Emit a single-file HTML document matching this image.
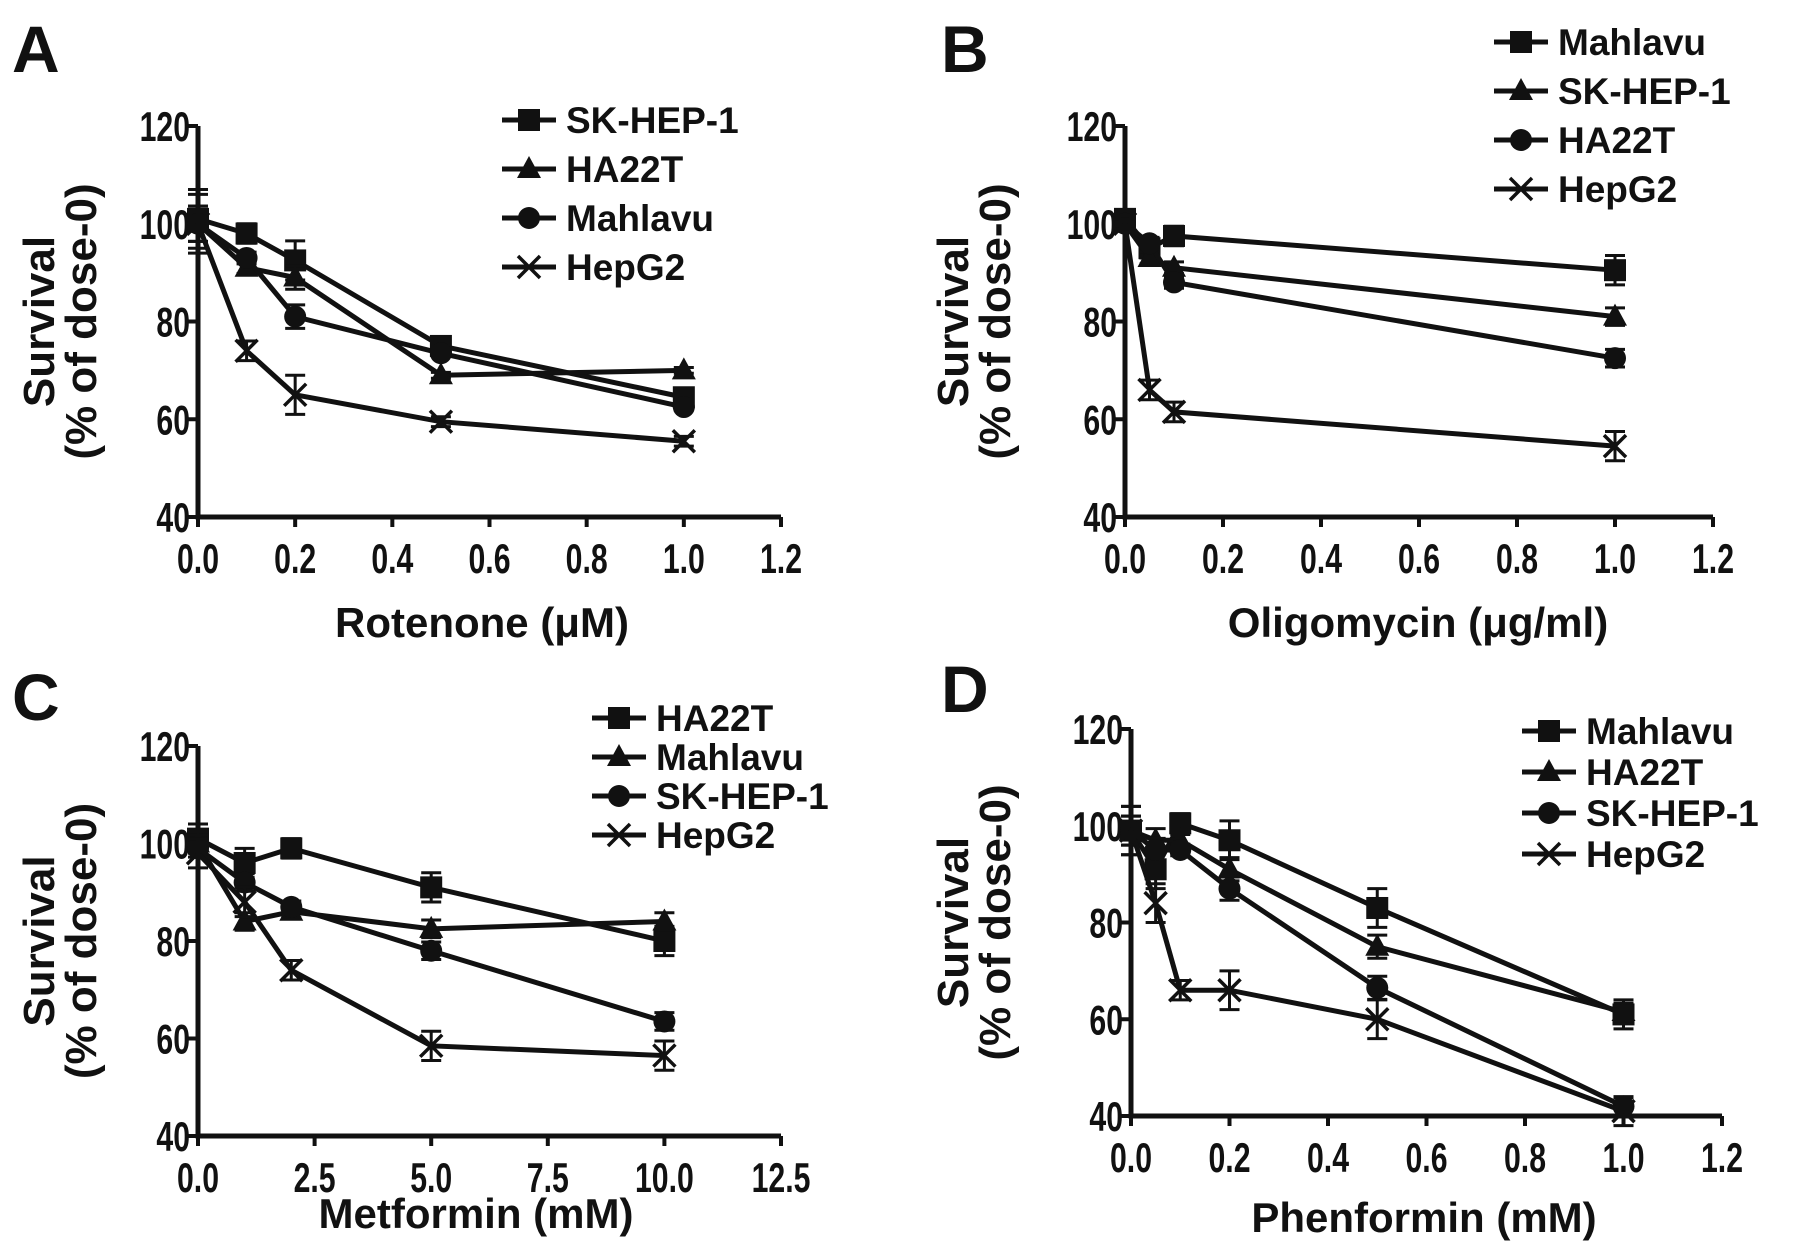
<!DOCTYPE html>
<html><head><meta charset="utf-8">
<style>
html,body{margin:0;padding:0;background:#fff;}
svg{display:block;}
text{font-family:"Liberation Sans",sans-serif;font-weight:bold;fill:#111;}
</style></head>
<body>
<svg id="fig" width="1800" height="1254" viewBox="0 0 1800 1254" xmlns="http://www.w3.org/2000/svg"></svg>
<script>
// Panel A: Rotenone
const aX = [0, 0.1, 0.2, 0.5, 1.0];
const aNames = ["SK-HEP-1", "HA22T", "Mahlavu", "HepG2"];
const aSK = [101, 98, 92.5, 75, 64.5];
const aHA = [100, 91, 89, 69, 70];
const aMa = [100, 93, 81, 73.5, 62.5];
const aHe = [100, 74, 65, 59.5, 55.5];
const aErr = [6, 2, 4, 1, 1];
const aXTicks = ["0.0","0.2","0.4","0.6","0.8","1.0","1.2"];
// Panel B: Oligomycin
const bX = [0, 0.05, 0.1, 1.0];
const bNames = ["Mahlavu", "SK-HEP-1", "HA22T", "HepG2"];
const bMa = [101, 95, 97.5, 90.5];
const bSK = [100, 93, 91, 81];
const bHA = [100, 96, 88, 72.5];
const bHe = [100, 66, 61.5, 54.5];
const bErr = [1, 2, 2, 3];
const bXTicks = ["0.0","0.2","0.4","0.6","0.8","1.0","1.2"];
// Panel C: Metformin
const cX = [0, 1, 2, 5, 10];
const cNames = ["HA22T", "Mahlavu", "SK-HEP-1", "HepG2"];
const cHA = [101, 96, 99, 91, 80];
const cMa = [100, 84, 86, 82.5, 84];
const cSK = [99, 92, 87, 78, 63.5];
const cHe = [98, 88, 74, 58.5, 56.5];
const cErr = [3, 3, 2, 3, 3];
const cXTicks = ["0.0","2.5","5.0","7.5","10.0","12.5"];
// Panel D: Phenformin
const dX = [0, 0.05, 0.1, 0.2, 0.5, 1.0];
const dNames = ["Mahlavu", "HA22T", "SK-HEP-1", "HepG2"];
const dMa = [99, 91, 100.5, 97, 83, 61];
const dHA = [99, 97, 97, 91, 75, 61.5];
const dSK = [99, 95, 95, 87, 66.5, 42];
const dHe = [99, 84, 66, 66, 60, 41];
const dErr = [5, 4, 2, 4, 4, 3];
const dXTicks = ["0.0","0.2","0.4","0.6","0.8","1.0","1.2"];
const yTicks = ["40","60","80","100","120"];

const NS = "http://www.w3.org/2000/svg";
const svg = document.getElementById('fig');
function mk(tag, attrs, parent){
  const e = document.createElementNS(NS, tag);
  for (const k in attrs) e.setAttribute(k, attrs[k]);
  (parent||svg).appendChild(e); return e;
}
function marker(g, kind, x, y){
  let m;
  if (kind==='sq') m = mk('rect',{x:x-11,y:y-11,width:22,height:22,fill:'#111'},g);
  else if (kind==='tri') m = mk('polygon',{points:`${x},${y-13} ${x+12},${y+9} ${x-12},${y+9}`,fill:'#111'},g);
  else if (kind==='cir') m = mk('circle',{cx:x,cy:y,r:11,fill:'#111'},g);
  else { m = mk('path',{d:`M${x-11},${y-11}L${x+11},${y+11}M${x+11},${y-11}L${x-11},${y+11}`,stroke:'#111','stroke-width':3.5,fill:'none'},g); }
  
  
}
function panel(o){
  const g = mk('g',{});
  
  
  const sx = v => o.x0 + (v - 0) / o.xmax * (o.x1 - o.x0);
  const sy = v => o.y0 - (v - 40) / 80 * (o.y0 - o.y1);
  const ax = mk('path',{d:`M${o.x0},${o.y1}V${o.y0}H${o.x1}`,stroke:'#111','stroke-width':5,fill:'none'},g);
  
  
  yTicks.forEach(t=>{
    const y = sy(+t);
    mk('line',{x1:o.x0-10,x2:o.x0,y1:y,y2:y,stroke:'#111','stroke-width':4},g);
    const tx = mk('text',{x:0,y:0,'font-size':42,'text-anchor':'end',transform:`translate(${o.x0-8},${y+15}) scale(0.72,1)`},g);
    tx.textContent = t;
    
    
  });
  o.xt.forEach(t=>{
    const x = sx(parseFloat(t));
    mk('line',{x1:x,x2:x,y1:o.y0,y2:o.y0+10,stroke:'#111','stroke-width':4},g);
    const tx = mk('text',{x:0,y:0,'font-size':42,'text-anchor':'middle',transform:`translate(${x},${o.y0+56}) scale(0.72,1)`},g);
    tx.textContent = t;
    
    
  });
  o.series.forEach((s,i)=>{
    const sg = mk('g',{},g);
    
    
    const d = s.v.map((v,j)=>(j?'L':'M')+sx(o.xs[j])+','+sy(v)).join('');
    mk('path',{d:d,stroke:'#111','stroke-width':5,fill:'none'},sg);
    s.v.forEach((v,j)=>{
      const x = sx(o.xs[j]), e = o.err[j]*(i===0||i===3?1:0.6);
      const y1 = sy(v+e), y2 = sy(v-e);
      mk('path',{d:`M${x},${y1}V${y2}M${x-10},${y1}H${x+10}M${x-10},${y2}H${x+10}`,stroke:'#111','stroke-width':3,fill:'none'},sg);
      marker(sg, s.m, x, sy(v));
    });
  });
  o.series.forEach((s,i)=>{
    const lg = mk('g',{},g);
    
    
    const y = o.ly + i*o.ld;
    mk('line',{x1:o.lx,x2:o.lx+54,y1:y,y2:y,stroke:'#111','stroke-width':5},lg);
    marker(lg, s.m, o.lx+27, y);
    const t = mk('text',{x:o.lx+64,y:y+13,'font-size':37},lg);
    t.textContent = s.name;
  });
  const lt = mk('text',{x:o.lpx,y:o.lpy,'font-size':66},g);
  lt.textContent = o.letter;
  
  
  const xt = mk('text',{x:o.xtx,y:o.xty,'font-size':42,'text-anchor':'middle'},g);
  xt.textContent = o.xtitle;
  
  
  const cy = (o.y0+o.y1)/2;
  const y1t = mk('text',{x:0,y:0,'font-size':44,'text-anchor':'middle',transform:`translate(${o.ytx},${cy}) rotate(-90)`},g);
  y1t.textContent = 'Survival';
  
  
  const y2t = mk('text',{x:0,y:0,'font-size':44,'text-anchor':'middle',transform:`translate(${o.ytx+42},${cy}) rotate(-90)`},g);
  y2t.textContent = '(%  of dose-0)';
  
  
}
panel({letter:'A',x0:198,x1:781,y0:517,y1:126,xmax:1.2,xs:aX,err:aErr,xt:aXTicks,
  series:[{name:aNames[0],v:aSK,m:'sq'},{name:aNames[1],v:aHA,m:'tri'},{name:aNames[2],v:aMa,m:'cir'},{name:aNames[3],v:aHe,m:'x'}],
  lx:502,ly:120,ld:49,lpx:12,lpy:72,xtx:482,xty:637,xtitle:'Rotenone (\u03bcM)',ytx:54});
panel({letter:'B',x0:1125,x1:1713,y0:517,y1:126,xmax:1.2,xs:bX,err:bErr,xt:bXTicks,
  series:[{name:bNames[0],v:bMa,m:'sq'},{name:bNames[1],v:bSK,m:'tri'},{name:bNames[2],v:bHA,m:'cir'},{name:bNames[3],v:bHe,m:'x'}],
  lx:1494,ly:42,ld:49,lpx:941,lpy:72,xtx:1418,xty:637,xtitle:'Oligomycin (\u03bcg/ml)',ytx:968});
panel({letter:'C',x0:198,x1:781,y0:1136,y1:746,xmax:12.5,xs:cX,err:cErr,xt:cXTicks,
  series:[{name:cNames[0],v:cHA,m:'sq'},{name:cNames[1],v:cMa,m:'tri'},{name:cNames[2],v:cSK,m:'cir'},{name:cNames[3],v:cHe,m:'x'}],
  lx:592,ly:718,ld:39,lpx:12,lpy:720,xtx:476,xty:1228,xtitle:'Metformin (mM)',ytx:54});
panel({letter:'D',x0:1131,x1:1722,y0:1116,y1:729,xmax:1.2,xs:dX,err:dErr,xt:dXTicks,
  series:[{name:dNames[0],v:dMa,m:'sq'},{name:dNames[1],v:dHA,m:'tri'},{name:dNames[2],v:dSK,m:'cir'},{name:dNames[3],v:dHe,m:'x'}],
  lx:1522,ly:731,ld:41,lpx:941,lpy:712,xtx:1424,xty:1232,xtitle:'Phenformin (mM)',ytx:968});
</script>
</body></html>
